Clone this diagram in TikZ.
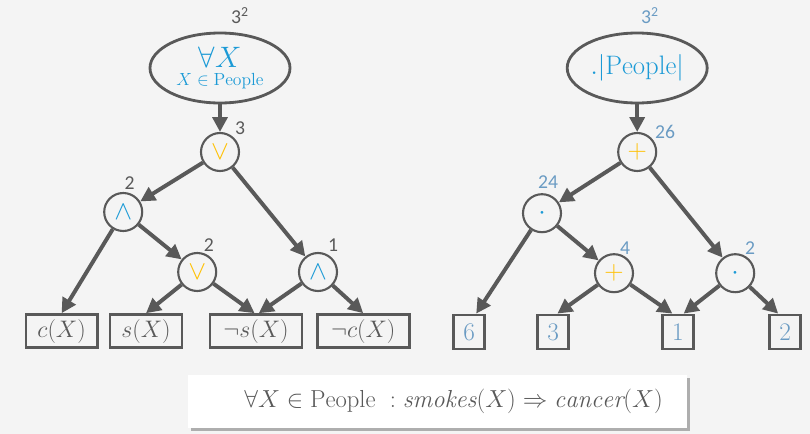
\RequirePackage{fix-cm}
\documentclass[tikz,border=0pt]{standalone}
\usepackage{fontspec}
\newfontfamily\lblfont{Carlito}
\usepackage{xcolor}
\usepackage{tikz}
\usetikzlibrary{arrows.meta, positioning, shapes.geometric, shadows}
\definecolor{kcgray}{HTML}{595959}
\definecolor{kcbg}{HTML}{F4F4F4}
\definecolor{kcblue}{HTML}{1B9AD6}
\definecolor{kcsteel}{HTML}{6A9BC3}
\definecolor{kcyellow}{HTML}{FFC000}

\begin{document}
\begin{tikzpicture}[
  op/.style={circle, draw=kcgray, line width=1.5pt, fill=kcbg, minimum size=0.95cm, inner sep=0pt, font=\fontsize{19}{20}\selectfont},
  leaf/.style={draw=kcgray, line width=2pt, fill=kcbg, minimum height=0.83cm, inner sep=1pt, font=\fontsize{17}{19}\selectfont, text=kcgray},
  quant/.style={ellipse, draw=kcgray, line width=2pt, fill=kcbg, minimum width=3.5cm, minimum height=1.75cm, align=center, inner sep=0pt},
  cnt/.style={font=\lblfont\fontsize{14}{15}\selectfont, text=kcgray, inner sep=0pt},
  arr/.style={-{Triangle[length=3.7mm, width=3.7mm]}, kcgray, line width=2.8pt}
]
  \fill[kcbg] (0,0) rectangle (20.25,-10.85);
  \useasboundingbox (0,0) rectangle (20.25,-10.85);

  % logical circuit
  \node[quant] (forall) at (5.5,-1.7) {{\fontsize{21}{23}\selectfont\color{kcblue}$\forall X$}\\[1pt]{\fontsize{12.5}{14}\selectfont\color{kcblue}$X\in\mathrm{People}$}};
  \node[cnt] (forallcnt) at (6.0,-0.38) {3\textsuperscript{2}};

  \node[op] (or1) at (5.5,-3.8) {\color{kcyellow}$\vee$};
  \node[op] (and1) at (3.08,-5.3) {\color{kcblue}$\wedge$};
  \node[op] (or2) at (4.93,-6.8) {\color{kcyellow}$\vee$};
  \node[op] (and2) at (7.95,-6.8) {\color{kcblue}$\wedge$};

  \node[cnt] (or1cnt) at (6.0,-3.2) {3};
  \node[cnt] (and1cnt) at (3.24,-4.58) {2};
  \node[cnt] (or2cnt) at (5.22,-6.12) {2};
  \node[cnt] (and2cnt) at (8.33,-6.14) {1};

  \node[leaf, minimum width=1.78cm] (cx) at (1.54,-8.28) {$c(X)$};
  \node[leaf, minimum width=1.8cm] (sx) at (3.65,-8.28) {$s(X)$};
  \node[leaf, minimum width=2.3cm] (nsx) at (6.4,-8.28) {$\neg s(X)$};
  \node[leaf, minimum width=2.3cm] (ncx) at (9.08,-8.28) {$\neg c(X)$};

  \draw[arr] (forall) -- (or1);
  \draw[arr] (or1) -- (and1);
  \draw[arr] (or1) -- (and2);
  \draw[arr] (and1) -- (cx.north);
  \draw[arr] (and1) -- (or2);
  \draw[arr] (or2) -- (sx.north);
  \draw[arr] (or2) -- ([xshift=-1pt]nsx.north);
  \draw[arr] (and2) -- ([xshift=2pt]nsx.north);
  \draw[arr] (and2) -- (ncx.north);

  % arithmetic circuit
  \node[quant] (power) at (15.93,-1.7) {\fontsize{19}{21}\selectfont\color{kcblue}$.|\mathrm{People}|$};
  \node[cnt, text=kcsteel] (powercnt) at (16.25,-0.38) {3\textsuperscript{2}};

  \node[op] (sum1) at (15.93,-3.8) {\color{kcyellow}$+$};
  \node[op] (prod1) at (13.55,-5.33) {\color{kcblue}$\cdot$};
  \node[op] (sum2) at (15.35,-6.83) {\color{kcyellow}$+$};
  \node[op] (prod2) at (18.38,-6.83) {\color{kcblue}$\cdot$};

  \node[cnt, text=kcsteel] (sum1cnt) at (16.63,-3.3) {26};
  \node[cnt, text=kcsteel] (prod1cnt) at (13.7,-4.55) {24};
  \node[cnt, text=kcsteel] (sum2cnt) at (15.63,-6.2) {4};
  \node[cnt, text=kcsteel] (prod2cnt) at (18.75,-6.2) {2};

  \node[leaf, minimum width=0.78cm, minimum height=0.85cm, text=kcsteel, font=\fontsize{18}{20}\selectfont] (six) at (11.73,-8.3) {$6$};
  \node[leaf, minimum width=0.78cm, minimum height=0.85cm, text=kcsteel, font=\fontsize{18}{20}\selectfont] (three) at (13.83,-8.3) {$3$};
  \node[leaf, minimum width=0.78cm, minimum height=0.85cm, text=kcsteel, font=\fontsize{18}{20}\selectfont] (one) at (16.95,-8.3) {$1$};
  \node[leaf, minimum width=0.78cm, minimum height=0.85cm, text=kcsteel, font=\fontsize{18}{20}\selectfont] (two) at (19.63,-8.3) {$2$};

  \draw[arr] (power) -- (sum1);
  \draw[arr] (sum1) -- (prod1);
  \draw[arr] (sum1) -- (prod2);
  \draw[arr] (prod1) -- ([xshift=5pt]six.north);
  \draw[arr] (prod1) -- (sum2);
  \draw[arr] (sum2) -- ([xshift=3pt]three.north);
  \draw[arr] (sum2) -- ([xshift=-4pt]one.north);
  \draw[arr] (prod2) -- ([xshift=4pt]one.north);
  \draw[arr] (prod2) -- ([xshift=-5pt]two.north);

  % formula
  \node[fill=white, minimum width=12.48cm, minimum height=1.32cm, text=kcgray, font=\fontsize{17.5}{19}\selectfont,
    drop shadow={shadow xshift=2pt, shadow yshift=-2pt, opacity=0.6, fill=black!50}] (rule) at (10.94,-10.04)
    {\hspace{0.8cm}$\forall X\in\mathrm{People}\ :\mathit{smokes}(X)\Rightarrow\mathit{cancer}(X)$};
\end{tikzpicture}
\end{document}
